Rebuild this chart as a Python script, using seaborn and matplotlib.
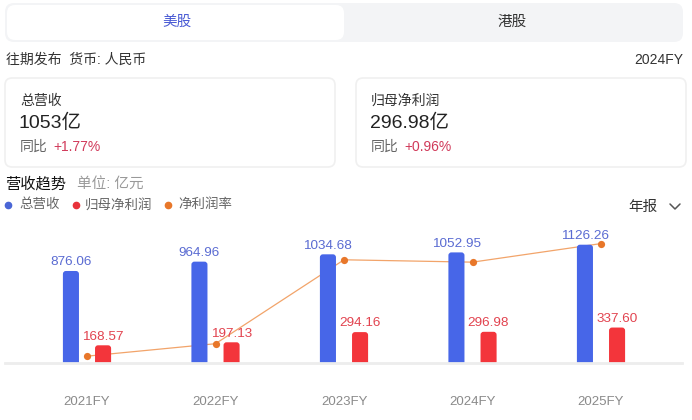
import matplotlib
matplotlib.use("Agg")
import matplotlib.pyplot as plt
from matplotlib.patches import FancyBboxPatch
from matplotlib.lines import Line2D
from matplotlib.transforms import IdentityTransform
import seaborn as sns
import pandas as pd

# data
years = ["2021FY", "2022FY", "2023FY", "2024FY", "2025FY"]
revenue = [876.06, 964.96, 1034.68, 1052.95, 1126.26]
net_profit = [168.57, 197.13, 294.16, 296.98, 337.60]
margin = [p / r * 100 for p, r in zip(net_profit, revenue)]  # 净利润率 (%)

series_names = ["总营收", "归母净利润", "净利润率"]
tabs = ["美股", "港股"]
card_titles = ["总营收", "归母净利润"]
card_values = ["1053亿", "296.98亿"]
card_yoy = ["+1.77%", "+0.96%"]

BLUE = "#4766e8"
RED = "#f3353b"
ORANGE = "#e8772a"
BLUE_TXT = "#5a6bd2"
RED_TXT = "#e2434f"

W, H = 692, 420

sns.set_theme(style="white")
plt.rcParams["font.family"] = ["Liberation Sans", "Noto Sans CJK SC", "DejaVu Sans"]

fig = plt.figure(figsize=(W / 100, H / 100), dpi=100)
fig.patch.set_facecolor("white")
PX = IdentityTransform()


def txt(x, y, s, **kw):
    # x, y in pixels from top-left
    fig.text(x, H - y, s, transform=PX, **kw)


def box(x0, y0, x1, y1, r, **kw):
    fig.add_artist(FancyBboxPatch((x0, H - y1), x1 - x0, y1 - y0,
                                  boxstyle=f"round,pad=0,rounding_size={r}",
                                  transform=PX, **kw))


# tab bar
box(5, 3, 683, 42, 9, fc="#f3f4f6", ec="none")
box(7, 5, 344, 40, 8, fc="white", ec="none")
txt(177, 22, tabs[0], color="#4a5bd4", fontsize=10.5, ha="center", va="center")
txt(512, 22, tabs[1], color="#333333", fontsize=10.5, ha="center", va="center")

txt(6, 60, "往期发布  货币: 人民币", color="#333333", fontsize=10, va="center")
txt(683, 60, "2024FY", color="#333333", fontsize=10, ha="right", va="center")

# summary cards
for i, x0 in enumerate([5, 356]):
    box(x0, 78, x0 + 330, 167, 7, fc="white", ec="#f0f0f0", lw=1.2)
    txt(x0 + 15, 101, card_titles[i], color="#333333", fontsize=10, va="center")
    txt(x0 + 14, 123, card_values[i], color="#222222", fontsize=14, va="center")
    txt(x0 + 15, 147, "同比", color="#666666", fontsize=10, va="center")
    txt(x0 + 48, 147, card_yoy[i], color="#d13a5a", fontsize=10, va="center")

txt(5, 184, "营收趋势", color="#111111", fontsize=11, va="center")
txt(77, 184, "单位: 亿元", color="#999999", fontsize=10.5, va="center")

# legend row
for (dx, tx), name, c in zip([(8, 19), (76, 85), (168, 178)], series_names,
                             ["#4a66d6", "#e8323a", ORANGE]):
    fig.add_artist(Line2D([dx], [H - 205], marker="o", markersize=4.5, color=c,
                          lw=0, transform=PX))
    txt(tx, 205, name, color="#666666", fontsize=9.7, va="center")

txt(628, 207, "年报", color="#333333", fontsize=10.5, va="center")
fig.add_artist(Line2D([670, 675, 680], [H - 204, H - 209, H - 204], color="#555555",
                      lw=1.1, transform=PX))

# chart
ax = fig.add_axes([5 / W, (H - 363) / H, (682 - 5) / W, 148 / H])
ax2 = ax.twinx()

df = pd.DataFrame({
    "year": years * 2,
    "series": [series_names[0]] * len(years) + [series_names[1]] * len(years),
    "value": revenue + net_profit,
})

sns.barplot(data=df, x="year", y="value", hue="series", palette=[BLUE, RED],
            width=0.5, gap=0.5, saturation=1, legend=False, ax=ax)

sns.pointplot(x=years, y=margin, ax=ax2, color="#f2a46a", markers="o",
              markersize=5.2, linewidth=0.9, markerfacecolor=ORANGE,
              markeredgecolor=ORANGE, markeredgewidth=0)

ylim_top = 1409
ax.set_ylim(0, ylim_top)
ax2.set_ylim(18.59, 32.70)
ax.set_xlim(-82 / 128.5, 595 / 128.5)

# labels on the bars
for cont, col, vals in zip(ax.containers, [BLUE_TXT, RED_TXT], [revenue, net_profit]):
    ax.bar_label(cont, labels=[f"{v:.2f}" for v in vals], padding=2,
                 color=col, fontsize=9.7)

# rounded bar tops
x_per_px = 1 / 128.5
y_per_px = ylim_top / 148
for bar in list(ax.patches):
    if not isinstance(bar, matplotlib.patches.Rectangle):
        continue
    bar.set_visible(False)
    ext = 6 * y_per_px
    rb = FancyBboxPatch((bar.get_x(), -ext), bar.get_width(), bar.get_height() + ext,
                        boxstyle=f"round,pad=0,rounding_size={3 * x_per_px}",
                        mutation_aspect=y_per_px / x_per_px,
                        fc=bar.get_facecolor(), ec="none")
    ax.add_patch(rb)

ax.set_zorder(ax2.get_zorder() + 1)
ax.patch.set_visible(False)

for a in (ax, ax2):
    for s in a.spines.values():
        s.set_visible(False)
    a.set_xlabel("")
    a.set_ylabel("")
    a.set_yticks([])
ax.spines["bottom"].set_visible(True)
ax.spines["bottom"].set_color("#ededed")
ax.spines["bottom"].set_linewidth(2)
ax.tick_params(axis="x", length=0, pad=24, labelsize=9.5, labelcolor="#8a8a8a")
ax2.tick_params(axis="x", length=0, labelbottom=False)

fig.savefig("out.png", dpi=100)
